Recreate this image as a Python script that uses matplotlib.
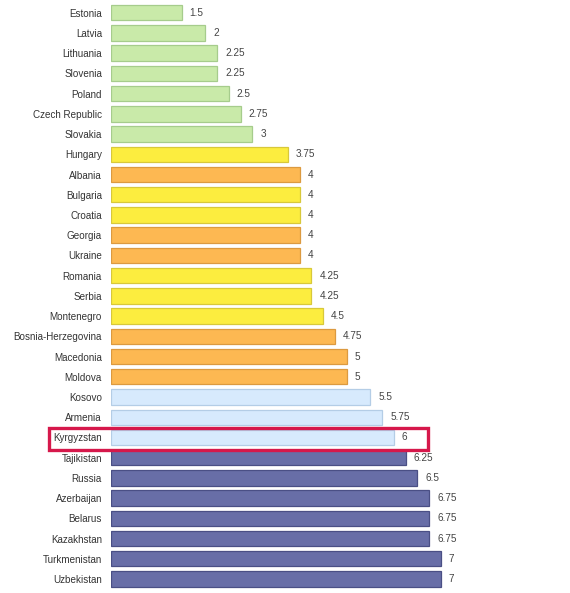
import matplotlib.pyplot as plt
from matplotlib.patches import Rectangle

countries = [
    'Estonia', 'Latvia', 'Lithuania', 'Slovenia', 'Poland', 'Czech Republic',
    'Slovakia', 'Hungary', 'Albania', 'Bulgaria', 'Croatia', 'Georgia',
    'Ukraine', 'Romania', 'Serbia', 'Montenegro', 'Bosnia-Herzegovina',
    'Macedonia', 'Moldova', 'Kosovo', 'Armenia', 'Kyrgyzstan', 'Tajikistan',
    'Russia', 'Azerbaijan', 'Belarus', 'Kazakhstan', 'Turkmenistan', 'Uzbekistan',
]
scores = [1.5, 2, 2.25, 2.25, 2.5, 2.75, 3, 3.75, 4, 4, 4, 4, 4, 4.25, 4.25,
          4.5, 4.75, 5, 5, 5.5, 5.75, 6, 6.25, 6.5, 6.75, 6.75, 6.75, 7, 7]
labels = ['1.5', '2', '2.25', '2.25', '2.5', '2.75', '3', '3.75', '4', '4', '4',
          '4', '4', '4.25', '4.25', '4.5', '4.75', '5', '5', '5.5', '5.75', '6',
          '6.25', '6.5', '6.75', '6.75', '6.75', '7', '7']
groups = ['g', 'g', 'g', 'g', 'g', 'g', 'g', 'y', 'o', 'y', 'y', 'o', 'o', 'y',
          'y', 'y', 'o', 'o', 'o', 'l', 'l', 'l', 'd', 'd', 'd', 'd', 'd', 'd', 'd']
highlight = 'Kyrgyzstan'

fills = {'g': '#c9eaa9', 'y': '#fced3f', 'o': '#fdb852', 'l': '#d7eafd', 'd': '#686ea7'}
edges = {'g': '#a6cc8c', 'y': '#d8c83a', 'o': '#dc9a40', 'l': '#b4cde6', 'd': '#4a4f85'}

plt.rcParams['font.family'] = ['Liberation Sans', 'DejaVu Sans']

fig = plt.figure(figsize=(5.7, 5.93), dpi=100)
ax = fig.add_axes([111 / 570, 0.0066, (7.5 * 47.14) / 570, 0.9890])

y = list(range(len(countries)))
ax.barh(y, scores, height=0.76,
        color=[fills[g] for g in groups],
        edgecolor=[edges[g] for g in groups], linewidth=0.9)

for yi, v, t in zip(y, scores, labels):
    ax.text(v + 0.17, yi, t, va='center', ha='left', fontsize=7.2, color='#444444')

ax.set_yticks(y)
ax.set_yticklabels(countries, fontsize=7.1, color='#333333')
ax.tick_params(axis='y', length=0, pad=6.5)
ax.set_xticks([])
ax.set_xlim(0, 7.5)
ax.set_ylim(len(countries) - 0.5, -0.5)
for s in ax.spines.values():
    s.set_visible(False)

# red frame around the highlighted row
i = countries.index(highlight)
ax.add_patch(Rectangle((-1.316, i - 0.45), 8.05, 1.07, fill=False,
                       edgecolor='#d6184b', linewidth=2.4, clip_on=False))

fig.savefig('out.png', dpi=100)
